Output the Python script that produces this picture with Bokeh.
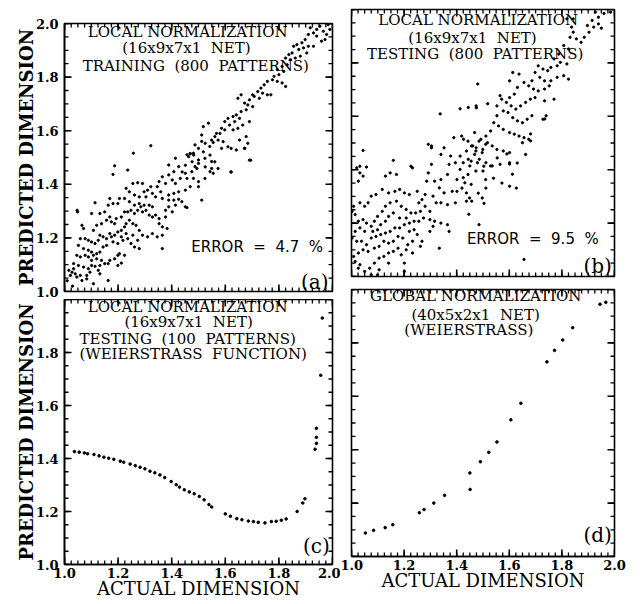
from bokeh.plotting import figure
from bokeh.models import FixedTicker, Range1d, Label, PrintfTickFormatter
from bokeh.layouts import row, column
from bokeh.embed import file_html
from bokeh.resources import INLINE

SERIF = "DejaVu Serif"
SANS = "DejaVu Sans"
NB = "\u00a0"

TICKS = [1.0, 1.2, 1.4, 1.6, 1.8, 2.0]
TICKS_C_Y = [1.0, 1.2, 1.4, 1.6, 1.8]
X_MINOR = [round(1 + 0.025 * i, 3) for i in range(41)]
Y_MINOR = [round(1 + 0.05 * i, 3) for i in range(21)]

# ---------------- panel (a): training, 800 patterns ----------------
A_X = [1.322,1.257,1.187,1.181,1.236,1.414,1.389,1.426,1.408,1.389,
       1.365,1.353,1.377,1.402,1.414,1.432,1.359,1.346,1.322,1.310,
       1.291,1.273,1.255,1.242,1.230,1.261,1.279,1.297,1.304,1.328,
       1.340,1.365,1.389,1.408,1.426,1.414,1.389,1.377,1.402,1.451,
       1.377,1.353,1.340,1.328,1.316,1.297,1.279,1.261,1.242,1.224,
       1.205,1.199,1.181,1.169,1.163,1.150,1.132,1.114,1.101,1.049,
       1.065,1.071,1.108,1.120,1.138,1.157,1.169,1.175,1.187,1.193,
       1.212,1.224,1.236,1.248,1.261,1.273,1.285,1.291,1.304,1.316,
       1.328,1.353,1.365,1.383,1.365,1.346,1.328,1.310,1.291,1.279,
       1.267,1.255,1.242,1.230,1.224,1.212,1.199,1.187,1.175,1.169,
       1.157,1.144,1.132,1.126,1.114,1.101,1.089,1.077,1.059,1.052,
       1.071,1.089,1.101,1.108,1.120,1.132,1.144,1.157,1.181,1.199,
       1.218,1.236,1.248,1.261,1.279,1.273,1.255,1.230,1.212,1.199,
       1.205,1.187,1.169,1.163,1.138,1.120,1.101,1.089,1.077,1.059,
       1.046,1.034,1.052,1.071,1.089,1.101,1.114,1.126,1.132,1.150,
       1.095,1.083,1.059,1.040,1.028,1.022,1.046,1.065,1.083,1.108,
       1.132,1.163,1.199,1.212,1.224,1.365,1.034,1.016,1.457,1.469,
       1.481,1.500,1.524,1.549,1.543,1.555,1.487,1.475,1.451,1.457,
       1.481,1.500,1.524,1.500,1.469,1.451,1.426,1.408,1.389,1.438,
       1.457,1.512,1.487,1.512,1.542,1.555,1.695,1.047,1.010,1.030,
       1.917,1.929,1.941,1.953,1.966,1.978,1.984,1.990,1.972,1.959,
       1.941,1.910,1.898,1.886,1.867,1.855,1.874,1.892,1.910,1.849,
       1.837,1.825,1.843,1.861,1.880,1.904,1.929,1.831,1.812,1.794,
       1.818,1.800,1.782,1.776,1.794,1.812,1.825,1.757,1.745,1.733,
       1.721,1.739,1.757,1.770,1.727,1.708,1.702,1.690,1.672,1.684,
       1.702,1.659,1.647,1.678,1.659,1.641,1.653,1.635,1.629,1.610,
       1.598,1.616,1.629,1.647,1.665,1.690,1.678,1.653,1.598,1.580,
       1.586,1.567,1.561,1.549,1.573,1.592,1.537,1.518,1.512,1.525,
       1.500,1.518,1.543,1.561,1.586,1.610,1.622,1.641,1.672,1.684,
       1.690,1.622,1.573,1.549,1.525,1.500,1.482,1.469,1.463,1.476,
       1.494,1.451,1.439,1.621,1.672]
A_Y = [1.544,1.516,1.469,1.437,1.453,1.497,1.472,1.466,1.447,1.435,
       1.428,1.410,1.403,1.416,1.403,1.422,1.372,1.391,1.391,1.378,
       1.403,1.406,1.403,1.372,1.385,1.360,1.353,1.372,1.353,1.366,
       1.353,1.347,1.341,1.341,1.344,1.322,1.316,1.303,1.297,1.316,
       1.278,1.272,1.285,1.316,1.322,1.322,1.328,1.322,1.335,1.347,
       1.347,1.328,1.328,1.347,1.322,1.297,1.291,1.331,1.291,1.297,
       1.247,1.235,1.228,1.247,1.253,1.266,1.278,1.260,1.253,1.272,
       1.278,1.297,1.297,1.303,1.291,1.303,1.316,1.297,1.303,1.285,
       1.278,1.253,1.241,1.235,1.210,1.204,1.216,1.204,1.210,1.228,
       1.247,1.253,1.266,1.253,1.241,1.228,1.222,1.210,1.204,1.216,
       1.197,1.204,1.210,1.191,1.179,1.185,1.191,1.197,1.197,1.172,
       1.160,1.154,1.147,1.135,1.141,1.147,1.166,1.172,1.185,1.179,
       1.191,1.197,1.179,1.166,1.160,1.191,1.210,1.216,1.204,1.135,
       1.141,1.122,1.116,1.104,1.116,1.122,1.116,1.129,1.135,1.129,
       1.135,1.104,1.097,1.091,1.085,1.097,1.094,1.079,1.097,1.104,
       1.072,1.060,1.060,1.066,1.072,1.060,1.054,1.041,1.047,1.029,
       1.066,1.041,1.097,1.106,1.135,1.160,1.085,1.079,1.510,1.514,
       1.516,1.491,1.497,1.485,1.447,1.441,1.466,1.447,1.441,1.422,
       1.422,1.410,1.422,1.391,1.391,1.378,1.372,1.366,1.360,1.335,
       1.313,1.341,1.547,1.560,1.541,1.556,1.490,1.303,1.040,1.020,
       1.984,1.965,1.978,1.990,1.971,1.959,1.996,1.978,1.940,1.934,
       1.953,1.959,1.940,1.928,1.921,1.915,1.903,1.909,1.915,1.890,
       1.884,1.871,1.865,1.871,1.878,1.890,1.915,1.846,1.840,1.828,
       1.821,1.809,1.803,1.790,1.784,1.778,1.765,1.784,1.771,1.759,
       1.746,1.740,1.734,1.734,1.721,1.728,1.734,1.715,1.703,1.696,
       1.690,1.734,1.721,1.678,1.671,1.659,1.646,1.634,1.653,1.646,
       1.634,1.621,1.603,1.609,1.621,1.634,1.578,1.565,1.603,1.590,
       1.609,1.590,1.578,1.565,1.565,1.559,1.628,1.615,1.584,1.553,
       1.534,1.521,1.509,1.484,1.534,1.540,1.534,1.528,1.534,1.553,
       1.490,1.446,1.459,1.459,1.465,1.478,1.509,1.515,1.503,1.484,
       1.459,1.471,1.446,1.446,1.534]

# ---------------- panel (b): testing, 800 patterns ----------------
B_X = [1.044,1.032,1.020,1.057,1.032,1.026,1.044,1.159,1.129,1.147,
       1.171,1.226,1.232,1.292,1.304,1.352,1.389,1.419,1.443,1.461,
       1.485,1.510,1.497,1.473,1.437,1.413,1.377,1.340,1.371,1.395,
       1.425,1.455,1.479,1.503,1.413,1.443,1.473,1.510,1.431,1.455,
       1.425,1.401,1.365,1.340,1.304,1.292,1.286,1.316,1.334,1.352,
       1.383,1.401,1.437,1.437,1.449,1.497,1.395,1.365,1.340,1.322,
       1.298,1.280,1.268,1.250,1.220,1.201,1.183,1.165,1.141,1.117,
       1.093,1.075,1.063,1.050,1.032,1.008,1.002,1.014,1.026,1.044,
       1.057,1.075,1.087,1.099,1.117,1.129,1.147,1.171,1.189,1.208,
       1.226,1.244,1.262,1.274,1.256,1.238,1.220,1.208,1.183,1.159,
       1.141,1.129,1.111,1.099,1.081,1.050,1.032,1.014,1.002,1.020,
       1.038,1.057,1.075,1.093,1.111,1.129,1.147,1.165,1.183,1.201,
       1.220,1.238,1.250,1.268,1.262,1.232,1.214,1.195,1.177,1.159,
       1.141,1.123,1.105,1.087,1.063,1.044,1.026,1.008,1.014,1.032,
       1.026,1.050,1.069,1.087,1.105,1.123,1.141,1.159,1.177,1.189,
       1.208,1.232,1.201,1.141,1.105,1.075,1.099,1.201,1.334,1.298,
       1.316,1.340,1.365,1.371,1.310,1.298,1.280,1.256,1.310,1.485,
       1.656,1.627,1.601,1.735,1.681,1.413,1.337,1.304,1.475,1.565,
       1.518,1.630,1.681,1.612,1.591,1.554,1.529,1.500,1.540,1.572,
       1.601,1.511,1.482,1.457,1.504,1.446,1.420,
       1.927,1.939,1.915,1.897,1.921,1.939,1.903,1.885,1.873,1.855,
       1.843,1.837,1.831,1.807,1.825,1.788,1.770,1.794,1.819,1.782,
       1.758,1.746,1.728,1.710,1.698,1.716,1.734,1.758,1.782,1.807,
       1.825,1.686,1.674,1.692,1.710,1.734,1.752,1.656,1.637,1.613,
       1.601,1.631,1.619,1.601,1.589,1.607,1.625,1.643,1.662,1.680,
       1.698,1.734,1.770,1.571,1.553,1.577,1.595,1.613,1.631,1.650,
       1.668,1.686,1.728,1.553,1.541,1.559,1.577,1.601,1.619,1.637,
       1.656,1.674,1.529,1.511,1.492,1.517,1.535,1.553,1.577,1.601,
       1.499,1.474,1.456,1.468,1.486,1.511,1.535,1.565,1.444,1.450,
       1.601,1.650,1.662,1.480,1.474,1.444,1.426,1.740,1.468,1.843,1.819,
       1.960,1.985,1.950]
B_Y = [1.472,1.413,1.407,1.410,1.388,1.357,1.376,1.435,1.376,1.388,
       1.382,1.413,1.407,1.495,1.482,1.482,1.520,1.526,1.507,1.489,
       1.507,1.495,1.464,1.470,1.470,1.451,1.451,1.457,1.420,1.426,
       1.426,1.432,1.426,1.413,1.401,1.382,1.395,1.363,1.351,1.345,
       1.370,1.363,1.382,1.363,1.420,1.388,1.357,1.357,1.332,1.313,
       1.319,1.319,1.313,1.282,1.294,1.294,1.276,1.269,1.276,1.276,
       1.244,1.263,1.288,1.319,1.307,1.313,1.326,1.319,1.313,1.326,
       1.307,1.301,1.276,1.263,1.276,1.263,1.244,1.232,1.207,1.213,
       1.200,1.188,1.207,1.225,1.244,1.263,1.276,1.282,1.263,1.251,
       1.238,1.238,1.244,1.219,1.207,1.207,1.200,1.219,1.219,1.238,
       1.225,1.207,1.194,1.175,1.169,1.169,1.182,1.169,1.144,1.132,
       1.132,1.119,1.144,1.150,1.157,1.163,1.169,1.182,1.182,1.194,
       1.169,1.175,1.157,1.132,1.113,1.132,1.119,1.144,1.150,1.132,
       1.125,1.132,1.113,1.106,1.094,1.100,1.088,1.075,1.056,1.044,
       1.031,1.019,1.031,1.050,1.069,1.075,1.088,1.094,1.106,1.081,
       1.100,1.088,1.050,1.050,1.025,1.006,1.006,1.019,1.106,1.213,
       1.207,1.200,1.194,1.169,1.188,1.169,1.307,1.276,1.301,1.194,
       1.064,1.331,1.421,1.590,1.534,1.628,1.609,1.489,1.632,1.677,
       1.647,1.425,1.508,1.383,1.459,1.444,1.414,1.395,1.368,1.350,
       1.338,1.331,1.312,1.282,1.274,1.233,1.331,
       1.990,1.971,1.959,1.940,1.934,1.946,1.915,1.896,1.877,1.890,
       1.915,1.934,1.896,1.865,1.852,1.833,1.815,1.802,1.796,1.789,
       1.783,1.771,1.777,1.789,1.764,1.746,1.733,1.733,1.746,1.752,
       1.739,1.733,1.714,1.702,1.695,1.702,1.714,1.727,1.758,1.764,
       1.733,1.708,1.683,1.670,1.652,1.639,1.627,1.639,1.652,1.664,
       1.670,1.658,1.664,1.664,1.639,1.620,1.614,1.595,1.583,1.576,
       1.589,1.602,1.589,1.602,1.576,1.564,1.551,1.539,1.533,1.526,
       1.520,1.514,1.545,1.526,1.514,1.501,1.489,1.476,1.470,1.464,
       1.476,1.482,1.489,1.457,1.439,1.426,1.414,1.420,1.439,1.414,
       1.426,1.501,1.457,1.721,1.639,1.633,1.514,1.602,1.539,1.965,1.965,
       1.985,1.990,1.930]

# ---------------- panel (c): Weierstrass, local normalization ----------------
C_X = [1.037,1.055,1.074,1.086,1.110,1.129,1.147,1.165,1.184,1.208,
       1.221,1.245,1.264,1.282,1.300,1.319,1.337,1.356,1.374,1.398,
       1.417,1.429,1.447,1.466,1.484,1.503,1.521,1.539,1.549,1.600,
       1.619,1.643,1.662,1.686,1.705,1.723,1.748,1.772,1.790,1.809,
       1.827,1.868,1.889,1.897,1.935,1.940,1.940,1.940,1.956,1.962]
C_Y = [1.426,1.424,1.421,1.418,1.415,1.410,1.405,1.401,1.397,1.390,
       1.386,1.379,1.373,1.367,1.361,1.352,1.346,1.338,1.328,1.313,
       1.301,1.292,1.282,1.274,1.267,1.257,1.244,1.226,1.217,1.191,
       1.182,1.173,1.169,1.164,1.162,1.159,1.157,1.162,1.163,1.167,
       1.172,1.200,1.232,1.248,1.435,1.457,1.480,1.514,1.714,1.930]

# ---------------- panel (d): Weierstrass, global normalization ----------------
D_X = [1.053,1.084,1.128,1.157,1.258,1.276,1.313,1.354,1.450,1.451,
       1.490,1.522,1.553,1.606,1.644,1.743,1.772,1.803,1.841,1.945,1.967]
D_Y = [1.088,1.098,1.108,1.119,1.164,1.176,1.200,1.229,1.313,1.251,
       1.355,1.390,1.429,1.512,1.574,1.729,1.772,1.811,1.857,1.945,1.952]

assert len(A_X) == len(A_Y), (len(A_X), len(A_Y))
assert len(B_X) == len(B_Y), (len(B_X), len(B_Y))
assert len(C_X) == len(C_Y)
assert len(D_X) == len(D_Y)

TITLE_A = ["LOCAL NORMALIZATION", "(16x9x7x1" + NB + " NET)",
           "TRAINING" + NB + " (800" + NB + " PATTERNS)"]
TITLE_B = ["LOCAL NORMALIZATION", "(16x9x7x1" + NB + " NET)",
           "TESTING" + NB + " (800" + NB + " PATTERNS)"]
TITLE_C = ["LOCAL NORMALIZATION", "(16x9x7x1" + NB + " NET)",
           "TESTING" + NB + " (100" + NB + " PATTERNS)",
           "(WEIERSTRASS" + NB + " FUNCTION)"]
TITLE_D = ["GLOBAL NORMALIZATION", "(40x5x2x1" + NB + " NET)", "(WEIERSTRASS)"]
ERR_A = "ERROR" + NB + " =" + NB + " 4.7" + NB + " %"
ERR_B = "ERROR" + NB + " =" + NB + " 9.5" + NB + " %"


def style_axis(ax, ticks):
    ax.ticker = FixedTicker(ticks=ticks, minor_ticks=[])
    ax.formatter = PrintfTickFormatter(format="%.1f")
    ax.axis_line_color = "black"
    ax.axis_line_width = 1.6
    ax.major_tick_in = 0
    ax.major_tick_out = 0
    ax.minor_tick_in = 0
    ax.minor_tick_out = 0
    ax.major_label_text_font = SERIF
    ax.major_label_text_font_style = "bold"
    ax.major_label_text_font_size = "13px"
    ax.major_label_text_color = "black"
    ax.major_label_standoff = 6


def add_ticks(p):
    # inward tick marks on all four sides, drawn from the tick lists as thin
    # screen-sized bars centred on the frame edge (half of each falls inside)
    for ticks, ln, th in ((TICKS, 14, 1.6), (Y_MINOR, 8, 1.3)):
        n = len(ticks)
        for edge in (1.0, 2.0):
            p.rect(x=[edge] * n, y=ticks, width=ln, height=th,
                   width_units="screen", height_units="screen",
                   fill_color="black", line_color=None)
    for ticks, ln, th in ((TICKS, 14, 1.6), (X_MINOR, 8, 1.3)):
        n = len(ticks)
        for edge in (1.0, 2.0):
            p.rect(x=ticks, y=[edge] * n, width=th, height=ln,
                   width_units="screen", height_units="screen",
                   fill_color="black", line_color=None)


def panel(width, height, borders, show_x, show_y, yticks, xlabel=None, ylabel=None):
    l, r, t, b = borders
    p = figure(width=width, height=height,
               x_range=Range1d(1.0, 2.0), y_range=Range1d(1.0, 2.0),
               output_backend="svg", toolbar_location=None,
               min_border_left=l, min_border_right=r,
               min_border_top=t, min_border_bottom=b)
    p.xgrid.visible = False
    p.ygrid.visible = False
    p.outline_line_color = "black"
    p.outline_line_width = 1.6
    p.background_fill_color = "white"
    p.border_fill_color = "white"
    style_axis(p.xaxis[0], TICKS)
    style_axis(p.yaxis[0], yticks)
    p.xaxis.visible = show_x
    p.yaxis.visible = show_y
    if xlabel:
        ax = p.xaxis[0]
        ax.major_label_standoff = 3
        ax.axis_label = xlabel
        ax.axis_label_text_font = SERIF
        ax.axis_label_text_font_style = "normal"
        ax.axis_label_text_font_size = "18px"
        ax.axis_label_text_color = "black"
        ax.axis_label_standoff = -3
    if ylabel:
        ax = p.yaxis[0]
        ax.axis_label = ylabel
        ax.axis_label_text_font = SERIF
        ax.axis_label_text_font_style = "bold"
        ax.axis_label_text_font_size = "18px"
        ax.axis_label_text_color = "black"
        ax.axis_label_standoff = -4
    add_ticks(p)
    return p


def add_text(p, x, y, txt, size="15px", font=SERIF, align="center"):
    p.add_layout(Label(x=x, y=y, text=txt, text_font=font, text_font_size=size,
                       text_align=align, text_baseline="middle", text_color="black"))


def add_title(p, lines, xs, ys):
    for txt, x, y in zip(lines, xs, ys):
        add_text(p, x, y, txt)


# (a)
pa = panel(340, 299, (58, 8, 23, 8), False, True, TICKS, ylabel="PREDICTED DIMENSION")
pa.scatter(A_X, A_Y, size=2.3, color="black")
add_title(pa, TITLE_A, [1.46, 1.455, 1.49], [1.970, 1.907, 1.843])
add_text(pa, 1.965, 1.165, ERR_A, size="15px", font=SANS, align="right")
add_text(pa, 1.985, 1.037, "(a)", size="20px", align="right")

# (c)
pc = panel(340, 302, (64, 3, 0, 36), True, True, TICKS_C_Y,
           xlabel="ACTUAL DIMENSION", ylabel="PREDICTED DIMENSION")
pc.scatter(C_X, C_Y, size=2.6, color="black")
add_title(pc, TITLE_C, [1.46, 1.463, 1.46, 1.48], [1.970, 1.914, 1.850, 1.793])
add_text(pc, 1.99, 1.068, "(c)", size="20px", align="right")

# (b)
pb = panel(286, 282, (7, 3, 9, 6), False, False, TICKS)
pb.scatter(B_X, B_Y, size=2.3, color="black")
add_title(pb, TITLE_B, [1.482, 1.46, 1.47], [1.959, 1.895, 1.835])
add_text(pb, 1.94, 1.139, ERR_B, size="15px", font=SANS, align="right")
add_text(pb, 1.99, 1.038, "(b)", size="20px", align="right")

# (d)
pd_ = panel(286, 312, (11, 12, 7, 38), True, False, TICKS, xlabel="ACTUAL DIMENSION")
pd_.scatter(D_X, D_Y, size=2.6, color="black")
add_title(pd_, TITLE_D, [1.472, 1.472, 1.446], [1.974, 1.906, 1.850])
add_text(pd_, 1.99, 1.079, "(d)", size="20px", align="right")

layout = row(column(pa, pc), column(pb, pd_))
open("out.html", "w").write(file_html(layout, INLINE))
